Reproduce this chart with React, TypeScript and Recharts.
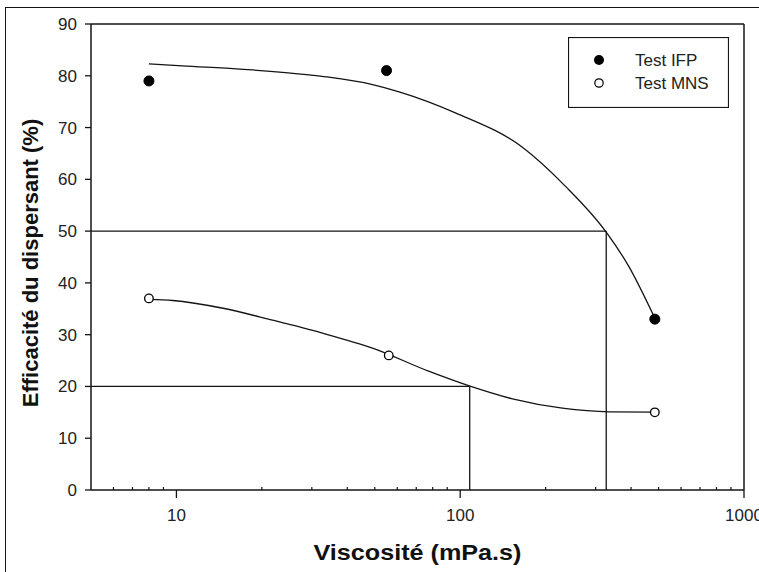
import React from "react";
import {
  ComposedChart,
  XAxis,
  YAxis,
  Line,
  Scatter,
  ReferenceLine,
  Legend,
} from "recharts";

// Measured points
const ifpViscosity = [8, 55, 485];
const ifpEfficiency = [79, 81, 33];
const mnsViscosity = [8, 56, 485];
const mnsEfficiency = [37, 26, 15];

// Fitted curves
const ifpFitViscosity = [8, 10.5, 16.7, 23.1, 33.6, 49.1, 60.9, 96.6, 165.6, 235.5, 326, 393.5, 482];
const ifpFitEfficiency = [82.3, 81.9, 81.3, 80.7, 79.8, 78.3, 76.9, 72.8, 66.2, 58.6, 49.9, 43.1, 33.5];
const mnsFitViscosity = [8, 9.7, 14.6, 21.8, 32.7, 49.1, 77.8, 107.7, 152.8, 229, 335, 485];
const mnsFitEfficiency = [36.8, 36.6, 35.1, 32.8, 30.3, 27.4, 22.9, 20.1, 17.6, 15.8, 15.1, 15.05];

// Threshold guide lines
const thresholdEfficiency = [50, 20];
const thresholdViscosity = [327, 108];

// Axis ticks
const yTicks = [0, 10, 20, 30, 40, 50, 60, 70, 80, 90];
const xMajorTicks = [10, 100, 1000];
const xMinorTicks = [6, 7, 8, 9, 20, 30, 40, 50, 60, 70, 80, 90, 200, 300, 400, 500, 600, 700, 800, 900];

const legendNames = ["Test IFP", "Test MNS"];

const zip = (xs: number[], ys: number[]) => xs.map((x, i) => ({ x, y: ys[i] }));
const ifpPoints = zip(ifpViscosity, ifpEfficiency);
const mnsPoints = zip(mnsViscosity, mnsEfficiency);
const ifpFit = zip(ifpFitViscosity, ifpFitEfficiency);
const mnsFit = zip(mnsFitViscosity, mnsFitEfficiency);
const xTicks = [...xMinorTicks, ...xMajorTicks].sort((a, b) => a - b);

const FONT = "'Liberation Sans', Arial, Helvetica, sans-serif";
const INK = "#141414";

const XTick = (props: any) => {
  const { x, y, payload } = props;
  const v = payload.value;
  const major = xMajorTicks.includes(v);
  if (!major) {
    return <line x1={x} x2={x} y1={y} y2={y - 3} stroke={INK} strokeWidth={1.2} />;
  }
  return (
    <g>
      <line x1={x} x2={x} y1={y} y2={y + 8} stroke={INK} strokeWidth={1.3} />
      <text x={x} y={y + 31} textAnchor="middle" fontSize={17} fontFamily={FONT} fill="#222">
        {v}
      </text>
    </g>
  );
};

const YTick = (props: any) => {
  const { x, y, payload } = props;
  return (
    <text x={x} y={y + 6} textAnchor="end" fontSize={17} fontFamily={FONT} fill="#222">
      {payload.value}
    </text>
  );
};

const FilledDot = (props: any) => <circle cx={props.cx} cy={props.cy} r={5} fill="#000" stroke="#000" />;
const OpenDot = (props: any) => (
  <circle cx={props.cx} cy={props.cy} r={4.3} fill="#fff" stroke="#000" strokeWidth={1.3} />
);

const LegendBox = () => (
  <svg width={161} height={71} style={{ display: "block" }}>
    <rect x={0.5} y={0.5} width={160} height={70} fill="#fff" stroke={INK} strokeWidth={1.2} />
    <circle cx={31} cy={23} r={5} fill="#000" />
    <text x={67} y={29} fontSize={17} fontFamily={FONT} fill="#222">
      {legendNames[0]}
    </text>
    <circle cx={31} cy={46} r={4.2} fill="#fff" stroke="#000" strokeWidth={1.2} />
    <text x={67} y={52} fontSize={17} fontFamily={FONT} fill="#222">
      {legendNames[1]}
    </text>
  </svg>
);

const YTitle = (props: any) => {
  const vb = props.viewBox || {};
  const cy = vb.y + vb.height / 2 + 6;
  return (
    <text
      transform={`translate(38, ${cy}) rotate(-90)`}
      textAnchor="middle"
      fontSize={22}
      fontWeight="bold"
      fontFamily={FONT}
      fill="#111"
    >
      Efficacité du dispersant (%)
    </text>
  );
};

const XTitle = (props: any) => {
  const vb = props.viewBox || {};
  const cx = vb.x + vb.width / 2;
  return (
    <text
      x={cx - 104}
      y={560}
      fontSize={22}
      fontWeight="bold"
      fontFamily={FONT}
      fill="#111"
      textLength={208}
      lengthAdjust="spacingAndGlyphs"
    >
      Viscosité (mPa.s)
    </text>
  );
};

export default function App() {
  return (
    <div
      style={{
        position: "absolute",
        left: 0,
        top: 0,
        width: 759,
        height: 572,
        overflow: "hidden",
        background: "#fff",
      }}
    >
      <div
        style={{
          position: "absolute",
          left: 5,
          top: 7,
          width: 800,
          height: 600,
          border: `1.5px solid ${INK}`,
        }}
      />
      <div style={{ position: "absolute", left: 0, top: 0 }}>
        <ComposedChart
          width={759}
          height={572}
          margin={{ top: 24, right: 15, bottom: 0, left: 0 }}
        >
          <XAxis
            dataKey="x"
            type="number"
            scale="log"
            domain={[5, 1000]}
            allowDataOverflow
            ticks={xTicks}
            interval={0}
            tick={<XTick />}
            tickLine={false}
            tickSize={0}
            tickMargin={0}
            height={82}
            axisLine={{ stroke: INK, strokeWidth: 1.5 }}
            label={<XTitle />}
          />
          <YAxis
            dataKey="y"
            type="number"
            domain={[0, 90]}
            ticks={yTicks}
            interval={0}
            width={91}
            tickSize={6}
            tickMargin={8}
            tick={<YTick />}
            tickLine={{ stroke: INK, strokeWidth: 1.3 }}
            axisLine={{ stroke: INK, strokeWidth: 1.5 }}
            label={<YTitle />}
          />
          <ReferenceLine y={90} stroke={INK} strokeWidth={1.5} />
          <ReferenceLine x={1000} stroke={INK} strokeWidth={1.5} />
          {thresholdEfficiency.map((e, i) => (
            <ReferenceLine
              key={`h${i}`}
              segment={[
                { x: 5, y: e },
                { x: thresholdViscosity[i], y: e },
              ]}
              stroke={INK}
              strokeWidth={1.3}
            />
          ))}
          {thresholdEfficiency.map((e, i) => (
            <ReferenceLine
              key={`v${i}`}
              segment={[
                { x: thresholdViscosity[i], y: e },
                { x: thresholdViscosity[i], y: 0 },
              ]}
              stroke={INK}
              strokeWidth={1.3}
            />
          ))}
          <Line
            data={ifpFit}
            dataKey="y"
            type="monotone"
            stroke={INK}
            strokeWidth={1.3}
            dot={false}
            activeDot={false}
            legendType="none"
            isAnimationActive={false}
          />
          <Line
            data={mnsFit}
            dataKey="y"
            type="monotone"
            stroke={INK}
            strokeWidth={1.3}
            dot={false}
            activeDot={false}
            legendType="none"
            isAnimationActive={false}
          />
          <Scatter
            name={legendNames[0]}
            data={ifpPoints}
            dataKey="y"
            shape={<FilledDot />}
            isAnimationActive={false}
          />
          <Scatter
            name={legendNames[1]}
            data={mnsPoints}
            dataKey="y"
            shape={<OpenDot />}
            isAnimationActive={false}
          />
          <Legend
            layout="horizontal"
            verticalAlign="middle"
            align="center"
            content={<LegendBox />}
            wrapperStyle={{ position: "absolute", left: 568, top: 37, width: 161, height: 71 }}
          />
        </ComposedChart>
      </div>
    </div>
  );
}
